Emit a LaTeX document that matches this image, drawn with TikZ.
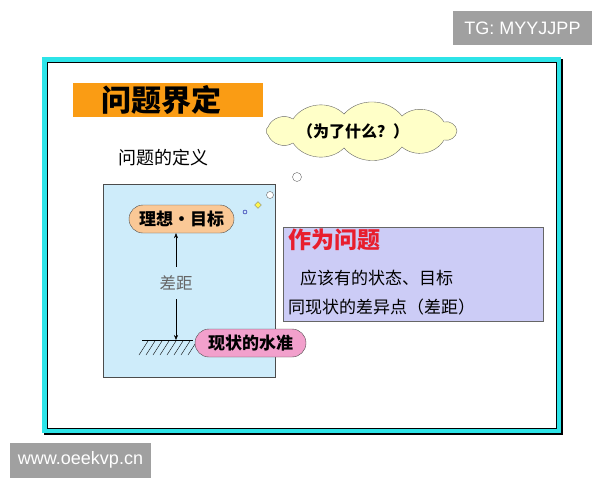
\documentclass[tikz,border=0pt]{standalone}
\usepackage{fontspec}
\setmainfont{Liberation Sans}
\newfontfamily\cjk{Noto Sans CJK SC}
\usetikzlibrary{arrows.meta,shapes.geometric}

\definecolor{framecyan}{RGB}{45,228,232}
\definecolor{titleorange}{RGB}{250,156,20}
\definecolor{cloudyellow}{RGB}{255,255,200}
\definecolor{skyblue}{RGB}{206,236,250}
\definecolor{peach}{RGB}{250,200,150}
\definecolor{pinky}{RGB}{242,160,204}
\definecolor{lavender}{RGB}{204,204,246}
\definecolor{probred}{RGB}{232,30,45}
\definecolor{wmgray}{RGB}{160,160,160}

\begin{document}
\begin{tikzpicture}[x=1pt,y=-1pt,
    pill/.style={draw=black!70,rounded corners=14pt,minimum height=28pt,inner sep=0pt,
                 font=\cjk\bfseries\fontsize{17}{17}\selectfont},
    body text/.style={anchor=west,inner sep=0pt,font=\cjk\fontsize{17}{17}\selectfont},
    wmbox/.style={fill=wmgray,text=white,inner sep=0pt,font=\fontsize{18}{18}\selectfont},
    tip/.style={-{Stealth[length=5pt,width=4pt]}}]

  \useasboundingbox (0,0) rectangle (600,480);

  \fill[black] (44,59) rectangle (563,435);
  \fill[framecyan] (42,57) rectangle (561,433);
  \filldraw[fill=white,draw=black,line width=0.6pt] (47,62) rectangle (556,428);

  \node[fill=titleorange,minimum width=190pt,minimum height=34pt,inner sep=0pt] (titlebox) at (168,100) {};
  \node[font=\cjk\bfseries\fontsize{30}{30}\selectfont] (title) at (161,100) {问题界定};

  \filldraw[draw=black!60,fill=cloudyellow]
    (457,131) to[bend left=50] (444,140) to[bend left=50] (402,147)
    to[bend left=50] (344,148) to[bend left=50] (293,143) to[bend left=50] (268,135)
    to[bend left=50] (268,127) to[bend left=50] (293,119) to[bend left=50] (344,114)
    to[bend left=50] (402,116) to[bend left=50] (444,122) to[bend left=50] cycle;
  \node[font=\cjk\bfseries\fontsize{16}{16}\selectfont] (why) at (353,131) {（为了什么？）};
  \node[circle,draw=black!60,fill=white,minimum size=9pt,inner sep=0pt] (bubble) at (297,177) {};

  \node[font=\cjk\fontsize{18}{18}\selectfont] (defn) at (163,158) {问题的定义};

  \node[draw=black!70,fill=skyblue,minimum width=172pt,minimum height=193pt] (panel) at (189,280.5) {};
  \node[circle,draw=black!60,fill=white,minimum size=7pt,inner sep=0pt] (dot1) at (270,195) {};
  \node[diamond,draw=black!50,fill=yellow!70,minimum size=7pt,inner sep=0pt] (gem) at (258,205) {};
  \node[circle,draw=blue!60!black,minimum size=4pt,inner sep=0pt] (dot2) at (245,212) {};

  \node[pill,fill=peach,minimum width=105pt] (goal) at (181.5,219) {理想・目标};
  \node[text=black!60,inner xsep=2pt,inner ysep=9pt,font=\cjk\fontsize{16.5}{16.5}\selectfont] (gap) at (176,283) {差距};
  \coordinate (lvl) at (176,340);
  \draw[tip] (gap.north) -- (gap.north |- goal.south);
  \draw[tip] (gap.south) -- (lvl);
  \draw (142,340) -- (193,340);
  \foreach \x in {148,155,...,197}
    \draw (\x,341) -- (\x-9,355);

  \node[pill,fill=pinky,minimum width=111pt] (now) at (250.5,343) {现状的水准};

  \node[draw=black!60,fill=lavender,minimum width=260pt,minimum height=94pt] (note) at (413,274) {};
  \node[body text,text=probred,font=\cjk\bfseries\fontsize{23}{23}\selectfont] (asq) at (288,240) {作为问题};
  \node[body text] (line1) at (300,278) {应该有的状态、目标};
  \node[body text] (line2) at (288,307) {同现状的差异点（差距）};

  \node[wmbox,minimum width=139pt,minimum height=34pt] (tg) at (522.5,28) {TG: MYYJJPP};
  \node[wmbox,minimum width=141pt,minimum height=35pt] (site) at (80.5,460) {www.oeekvp.cn};
\end{tikzpicture}
\end{document}
